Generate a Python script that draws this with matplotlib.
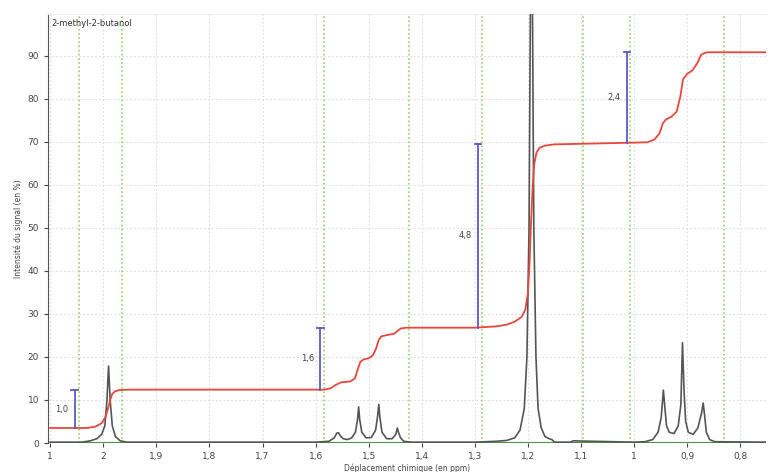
import matplotlib
matplotlib.use("Agg")
import matplotlib.pyplot as plt

# spectre RMN 1H du 2-methyl-2-butanol
spectrum_ppm = [2.10, 2.04, 2.025, 2.012, 2.003, 1.997, 1.993, 1.990, 1.987, 1.983, 1.977, 1.968, 1.955,
                1.60, 1.575, 1.565, 1.560, 1.557, 1.553, 1.548, 1.540, 1.532, 1.525, 1.521, 1.519, 1.517,
                1.513, 1.505, 1.495, 1.487, 1.483, 1.481, 1.479, 1.475, 1.466, 1.456, 1.449, 1.446, 1.444,
                1.440, 1.434, 1.42, 1.30, 1.26, 1.24, 1.225, 1.215, 1.207, 1.202, 1.198, 1.195, 1.192,
                1.189, 1.185, 1.181, 1.175, 1.168, 1.160, 1.155, 1.15, 1.12, 1.115, 1.00, 0.98, 0.965,
                0.955, 0.949, 0.945, 0.942, 0.939, 0.934, 0.925, 0.917, 0.912, 0.909, 0.906, 0.903,
                0.898, 0.889, 0.880, 0.873, 0.870, 0.867, 0.864, 0.858, 0.848, 0.75]
spectrum_int = [0.2, 0.2, 0.5, 1.0, 2.0, 4.0, 10.0, 17.9, 10.0, 4.0, 1.5, 0.5, 0.2,
                0.2, 0.4, 1.2, 2.3, 2.4, 1.6, 1.0, 0.8, 1.2, 2.5, 5.5, 8.4, 5.5,
                2.5, 1.2, 1.3, 3.0, 6.5, 9.0, 6.0, 2.5, 1.0, 1.0, 2.0, 3.5, 2.5,
                1.2, 0.4, 0.2, 0.2, 0.4, 0.6, 1.2, 3.0, 8.0, 20.0, 50.0, 110.0, 110.0,
                50.0, 20.0, 8.0, 3.5, 1.5, 1.0, 0.8, 0.2, 0.2, 0.5, 0.2, 0.3, 0.8,
                2.5, 6.0, 12.3, 8.0, 4.0, 2.5, 2.2, 4.0, 9.0, 23.3, 12.0, 5.0,
                2.5, 2.0, 3.5, 7.0, 9.3, 6.0, 2.5, 0.8, 0.3, 0.2]

# courbe d'integration
integral_ppm = [2.10, 2.03, 2.015, 2.003, 1.996, 1.991, 1.987, 1.983, 1.978, 1.97, 1.95,
                1.584, 1.572, 1.562, 1.552, 1.535, 1.526, 1.521, 1.516, 1.510, 1.500, 1.492,
                1.486, 1.481, 1.476, 1.465, 1.452, 1.446, 1.440, 1.43,
                1.30, 1.26, 1.24, 1.225, 1.212, 1.205, 1.200, 1.197, 1.194, 1.191, 1.188,
                1.184, 1.178, 1.168, 1.15, 1.00, 0.975, 0.962, 0.952, 0.946, 0.940, 0.930,
                0.920, 0.913, 0.908, 0.900, 0.890, 0.880, 0.874, 0.866, 0.86, 0.75]
integral_val = [3.5, 3.5, 3.8, 4.6, 6.0, 8.0, 10.0, 11.4, 12.0, 12.3, 12.4,
                12.4, 12.7, 13.5, 14.1, 14.3, 15.0, 17.0, 18.8, 19.4, 19.7, 20.4,
                22.0, 24.0, 24.8, 25.1, 25.4, 26.0, 26.6, 26.8,
                26.8, 27.1, 27.5, 28.2, 29.3, 31.0, 35.0, 42.0, 52.0, 60.0, 65.0,
                67.5, 68.6, 69.1, 69.4, 69.8, 69.9, 70.5, 72.0, 74.3, 75.2, 75.8,
                77.0, 80.5, 84.5, 85.8, 86.6, 88.5, 90.2, 90.7, 90.8, 90.8]

# barres d'integration
bar_ppm = [2.054, 1.591, 1.294, 1.013]
bar_low = [3.5, 12.4, 26.8, 69.8]
bar_high = [12.3, 26.8, 69.5, 90.8]
bar_labels = ["1,0", "1,6", "4,8", "2,4"]

# bornes d'integration (pointilles verts)
bound_ppm = [2.045, 1.964, 1.584, 1.425, 1.286, 1.097, 1.007, 0.830]

xtick_pos = [2.1, 2.0, 1.9, 1.8, 1.7, 1.6, 1.5, 1.4, 1.3, 1.2, 1.1, 1.0, 0.9, 0.8]
xtick_lab = ["1", "2", "1,9", "1,8", "1,7", "1,6", "1,5", "1,4", "1,3", "1,2", "1,1", "1", "0,9", "0,8"]
ytick_pos = [0, 10, 20, 30, 40, 50, 60, 70, 80, 90]

fig = plt.figure(figsize=(7.71, 4.72), dpi=100)
ax = fig.add_axes([0.0623, 0.0614, 0.931, 0.909])

ax.set_xlim(2.104, 0.752)
ax.set_ylim(0, 99.7)

for x in xtick_pos:
    ax.axvline(x, color="#dddddd", lw=0.8, ls=(0, (1.5, 2)), zorder=0)
for y in ytick_pos[1:]:
    ax.axhline(y, color="#dddddd", lw=0.8, ls=(0, (1.5, 2)), zorder=0)
for x in bound_ppm:
    ax.axvline(x, color="#94d268", lw=1.2, ls=(0, (1, 1.5)), zorder=1)

ax.axhline(0, color="#3f9a3f", lw=1.5, zorder=2)
ax.plot(spectrum_ppm, spectrum_int, color="#555555", lw=1.2, zorder=3)
ax.plot(integral_ppm, integral_val, color="#e8473c", lw=1.3, zorder=4)

for x, lo, hi, lab in zip(bar_ppm, bar_low, bar_high, bar_labels):
    ax.plot([x, x], [lo, hi], color="#5a5ac8", lw=1.3, zorder=5)
    ax.plot([x + 0.006, x - 0.006], [hi, hi], color="#5a5ac8", lw=1.3, zorder=5)
    ax.text(x + 0.012, (lo + hi) / 2, lab, ha="right", va="center", fontsize=6, color="#444444")

ax.text(2.098, 98.5, "2-methyl-2-butanol", ha="left", va="top", fontsize=6, color="#333333")

ax.set_xticks(xtick_pos)
ax.set_xticklabels(xtick_lab)
ax.set_yticks(ytick_pos)
ax.tick_params(labelsize=6.5, colors="#444444", length=3, width=0.8)
ax.set_xlabel("Déplacement chimique (en ppm)", fontsize=5.5, color="#444444", labelpad=2)
ax.set_ylabel("Intensité du signal (en %)", fontsize=5.5, color="#444444", labelpad=3)

ax.spines["right"].set_visible(False)
ax.spines["top"].set_color("#eeeeee")
ax.spines["bottom"].set_visible(False)
ax.spines["left"].set_color("#555555")

fig.savefig("out.png", dpi=100)
